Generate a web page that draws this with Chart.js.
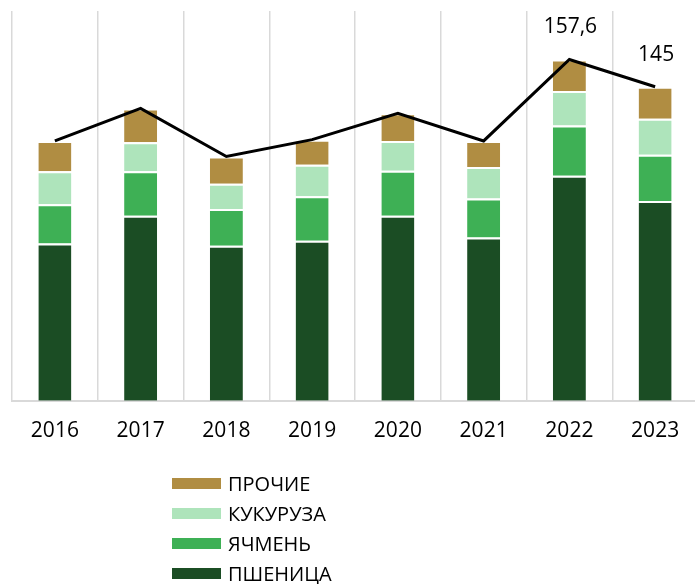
<!DOCTYPE html>
<html>
<head>
<meta charset="utf-8">
<script src="https://cdn.jsdelivr.net/npm/chart.js@4"></script>
<style>
  html, body { margin: 0; padding: 0; background: #fff; overflow: hidden; }
  #wrap { position: relative; width: 698px; height: 584px; }
  #legend { position: absolute; left: 172px; top: 468px; font-family: 'Open Sans', sans-serif; font-size: 20px; color: #000; }
  .item { height: 30px; display: flex; align-items: center; }
  .box { width: 49px; height: 11px; margin-right: 7px; }
</style>
</head>
<body>
<div id="wrap">
  <canvas id="grainChart" width="698" height="584"></canvas>
  <div id="legend"></div>
</div>
<script>
const years = ['2016', '2017', '2018', '2019', '2020', '2021', '2022', '2023'];
const wheat = [72.6, 85.4, 71.6, 73.9, 85.4, 75.4, 103.9, 92.3];
const barley = [18.2, 20.6, 17.0, 20.6, 20.8, 18.0, 23.2, 21.3];
const corn = [15.2, 13.4, 11.6, 14.5, 13.8, 14.6, 16.0, 16.7];
const other = [14.0, 15.6, 12.6, 11.6, 12.8, 12.0, 14.5, 14.7];
const totals = [120.0, 135.0, 112.8, 120.6, 132.8, 120.0, 157.6, 145.0];
const totalLabels = ['', '', '', '', '', '', '157,6', '145'];

Chart.defaults.font.family = "'Open Sans', sans-serif";
Chart.defaults.color = '#000';

// подписи над линией
const totalLabelPlugin = {
    id: 'totalLabels',
    afterDatasetsDraw(chart) {
        const idx = chart.data.datasets.findIndex(d => d.type === 'line');
        const meta = chart.getDatasetMeta(idx);
        const ctx = chart.ctx;
        ctx.save();
        ctx.font = "21px 'Open Sans', sans-serif";
        ctx.fillStyle = '#000';
        ctx.textAlign = 'center';
        ctx.textBaseline = 'middle';
        meta.data.forEach((pt, i) => {
            if (totalLabels[i]) ctx.fillText(totalLabels[i], pt.x + 1, pt.y - 32);
        });
        ctx.restore();
    }
};

const barStyle = {
    borderColor: '#ffffff',
    borderWidth: { top: 2, left: 0, right: 0, bottom: 0 },
    borderSkipped: false,
    barPercentage: 1,
    categoryPercentage: 0.385,
    order: 1,
    stack: 'grain'
};

const chart = new Chart(document.getElementById('grainChart'), {
    type: 'bar',
    data: {
        labels: years,
        datasets: [
            { label: 'ПШЕНИЦА', data: wheat, backgroundColor: '#1b4d24', ...barStyle },
            { label: 'ЯЧМЕНЬ', data: barley, backgroundColor: '#3eb055', ...barStyle },
            { label: 'КУКУРУЗА', data: corn, backgroundColor: '#aee4bb', ...barStyle },
            { label: 'ПРОЧИЕ', data: other, backgroundColor: '#b08d42', ...barStyle },
            {
                type: 'line',
                label: 'ИТОГО',
                data: totals,
                borderColor: '#000',
                borderWidth: 3,
                pointRadius: 0,
                tension: 0,
                fill: false,
                order: 0,
                stack: 'total'
            }
        ]
    },
    options: {
        responsive: false,
        animation: false,
        layout: { padding: { left: 12, top: 11, right: 0, bottom: 122 } },
        plugins: {
            legend: { display: false },
            tooltip: { enabled: false }
        },
        scales: {
            x: {
                stacked: true,
                grid: { color: '#d9d9d9', lineWidth: 1.5, drawTicks: false, offset: true },
                border: { color: '#d9d9d9', width: 2 },
                ticks: { font: { size: 21 }, padding: 18, color: '#000' }
            },
            y: {
                stacked: true,
                display: false,
                min: 0,
                max: 180
            }
        }
    },
    plugins: [totalLabelPlugin]
});

// легенда в один столбец, как в оригинале
const legend = document.getElementById('legend');
legend.innerHTML = chart.data.datasets
    .filter(d => d.type !== 'line')
    .slice().reverse()
    .map(d => `<div class="item"><span class="box" style="background:${d.backgroundColor}"></span>${d.label}</div>`)
    .join('');
</script>
</body>
</html>
